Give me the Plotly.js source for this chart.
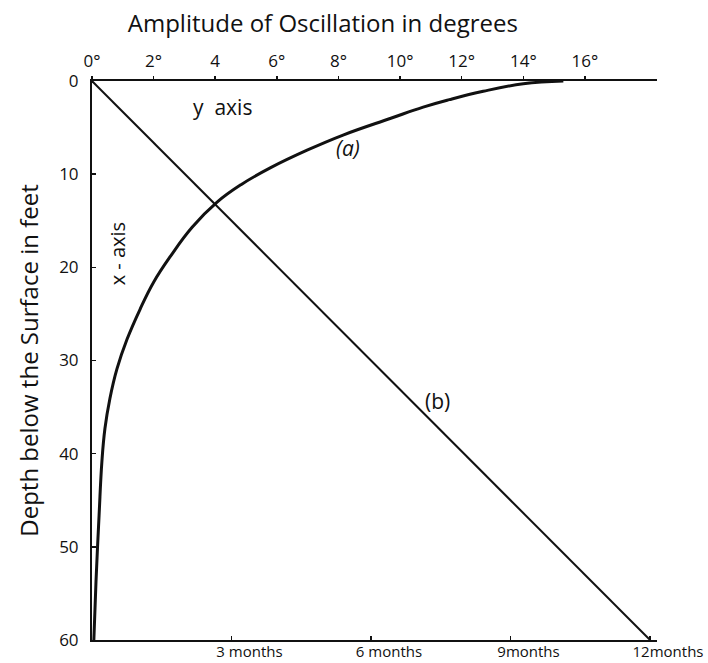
<!DOCTYPE html>
<html>
<head>
<meta charset="utf-8">
<script src="https://cdn.plot.ly/plotly-3.0.1.min.js"></script>
<style>
  html, body { margin: 0; padding: 0; background: #fff; }
  #chart { width: 708px; height: 663px; }
</style>
</head>
<body>
<div id="chart"></div>
<script>
// Curve (a): amplitude of oscillation (degrees) against depth (feet)
const depthA = [0, 0.3, 1.1, 2.0, 2.8, 4.0, 5.8, 7.4, 9.3, 11.1, 13.0, 15.7, 18.8, 21.6, 24.5, 27.7, 30.9, 34.1, 37.3, 40.9, 46.6, 53.7, 60];
const amplitudeA = [15.3, 14.0, 12.7, 11.6, 10.75, 9.7, 8.15, 7.0, 5.8, 4.85, 4.06, 3.25, 2.55, 2.0, 1.56, 1.14, 0.81, 0.58, 0.42, 0.32, 0.23, 0.13, 0.06];

// Line (b): retardation of the wave in months against depth
const monthsB = [0, 12];
const depthB = [0, 60];

// Tick labels
const degreeTicks = [0, 2, 4, 6, 8, 10, 12, 14, 16];
const degreeLabels = ['0°', '2°', '4', '6°', '8°', '10°', '12°', '14°', '16°'];
const monthTicks = [3, 6, 9, 12];
const monthLabels = ['3 months', '6 months', '9months', '12months'];
const depthTicks = [0, 10, 20, 30, 40, 50, 60];

const FONT = '"Open Sans", "DejaVu Sans", sans-serif';

const traces = [
    {
        x: amplitudeA,
        y: depthA,
        xaxis: 'x',
        yaxis: 'y',
        mode: 'lines',
        line: { color: '#111', width: 3, shape: 'spline', smoothing: 1.2 },
        hoverinfo: 'skip'
    },
    {
        x: monthsB,
        y: depthB,
        xaxis: 'x2',
        yaxis: 'y',
        mode: 'lines',
        line: { color: '#111', width: 2 },
        hoverinfo: 'skip'
    }
];

const layout = {
    width: 708,
    height: 663,
    margin: { l: 92, r: 51, t: 81, b: 23 },
    paper_bgcolor: '#fff',
    plot_bgcolor: '#fff',
    showlegend: false,
    font: { family: FONT, color: '#111', size: 17 },
    title: {
        text: 'Amplitude of Oscillation in degrees',
        font: { family: FONT, size: 24, color: '#111' },
        xref: 'container', x: 0.456, xanchor: 'center',
        yref: 'container', y: 0.965, yanchor: 'middle'
    },
    xaxis: {
        side: 'top',
        range: [0, 18.34],
        tickvals: degreeTicks,
        ticktext: degreeLabels,
        ticks: 'outside', ticklen: 3, tickwidth: 1.5, tickcolor: '#111',
        ticklabelstandoff: 2,
        showline: true, linewidth: 2, linecolor: '#111',
        showgrid: false, zeroline: false,
        tickfont: { size: 17 }
    },
    xaxis2: {
        overlaying: 'x',
        side: 'bottom',
        range: [0, 12.15],
        tickvals: monthTicks,
        ticktext: monthLabels,
        ticks: 'inside', ticklen: 4, tickwidth: 1.5, tickcolor: '#111',
        ticklabelshift: 18,
        ticklabelstandoff: -3,
        showline: true, linewidth: 2, linecolor: '#111',
        showgrid: false, zeroline: false,
        tickfont: { size: 15 }
    },
    yaxis: {
        range: [60, 0],
        tickvals: depthTicks,
        ticks: 'inside', ticklen: 4, tickwidth: 1.5, tickcolor: '#111',
        ticklabelstandoff: 8,
        showline: true, linewidth: 2, linecolor: '#111',
        showgrid: false, zeroline: false,
        tickfont: { size: 17 },
        title: {
            text: 'Depth below the Surface in feet',
            font: { family: FONT, size: 24, color: '#111' },
            standoff: 14
        }
    },
    annotations: [
        { text: 'y  axis', x: 4.22, y: 2.78, xref: 'x', yref: 'y', showarrow: false, font: { size: 21 } },
        { text: '<i>(a)</i>', x: 8.31, y: 7.17, xref: 'x', yref: 'y', showarrow: false, font: { size: 21 } },
        { text: 'x - axis', x: 0.81, y: 18.5, xref: 'x', yref: 'y', showarrow: false, textangle: -90, font: { size: 20 } },
        { text: '(b)', x: 11.23, y: 34.3, xref: 'x', yref: 'y', showarrow: false, font: { size: 21 } }
    ]
};

Plotly.newPlot('chart', traces, layout, { displayModeBar: false, staticPlot: true });
</script>
</body>
</html>
